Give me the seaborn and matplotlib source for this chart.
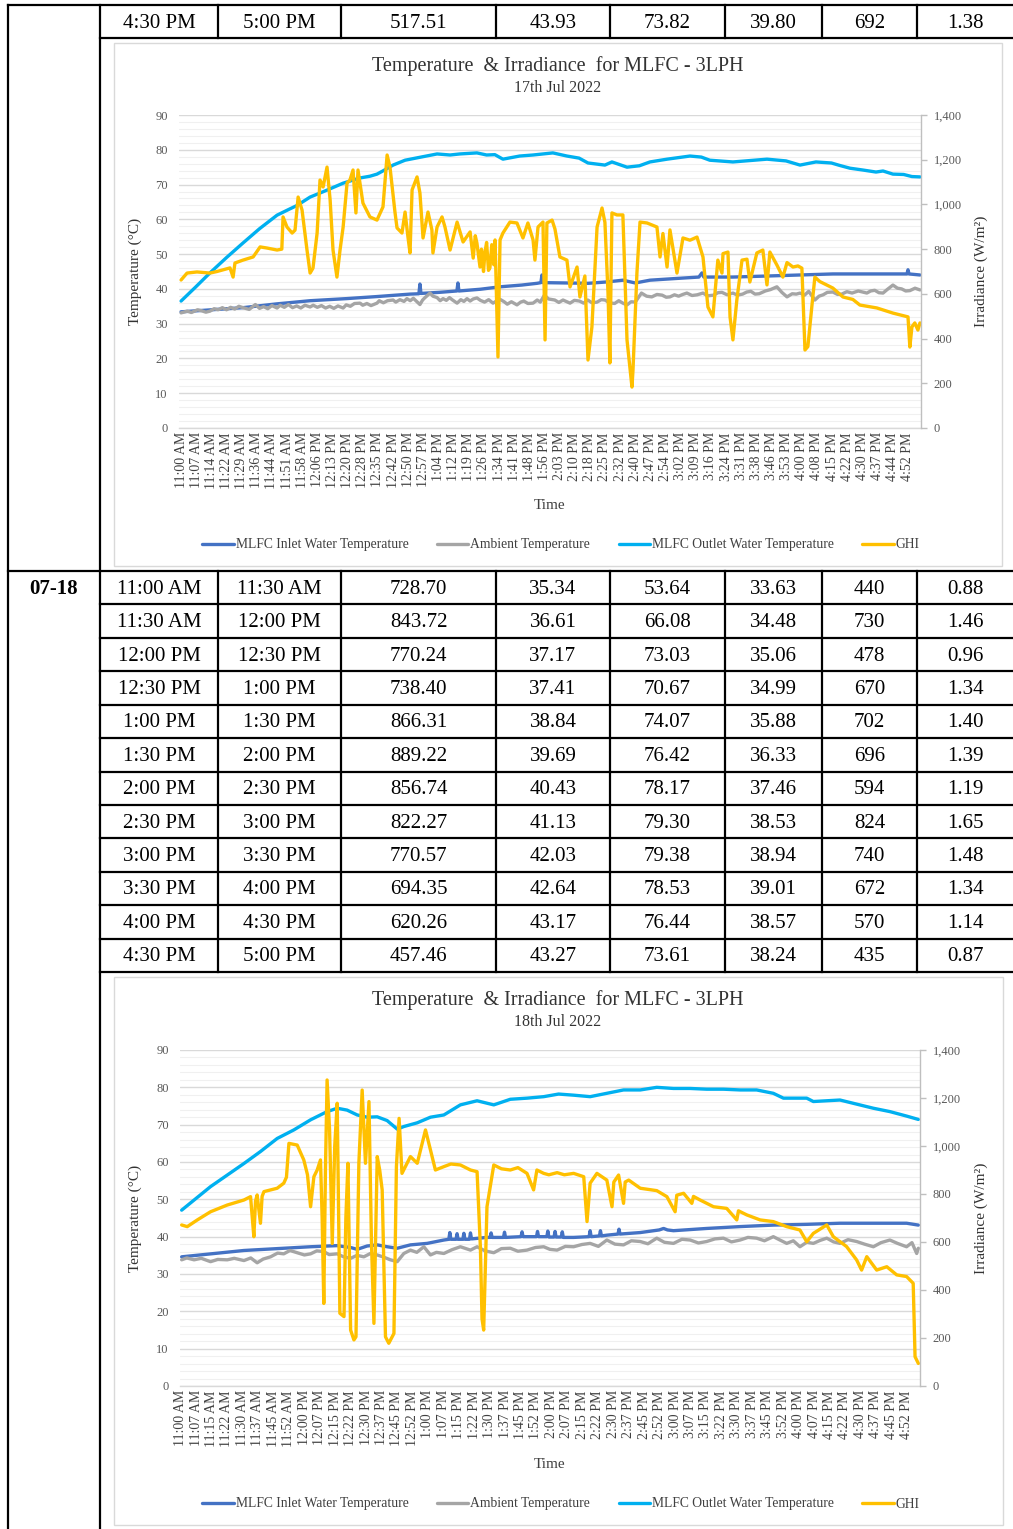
import numpy as np
import pandas as pd
import matplotlib
matplotlib.use("Agg")
import matplotlib.pyplot as plt
from matplotlib.lines import Line2D
from matplotlib.patches import Rectangle
from matplotlib.ticker import MultipleLocator, FuncFormatter
import seaborn as sns

# ---------------------------------------------------------------- table data
jul17_last_row = ["4:30 PM", "5:00 PM", "517.51", "43.93", "73.82", "39.80", "692", "1.38"]

jul18_date = "07-18"
jul18_start = ["11:00 AM", "11:30 AM", "12:00 PM", "12:30 PM", "1:00 PM", "1:30 PM",
               "2:00 PM", "2:30 PM", "3:00 PM", "3:30 PM", "4:00 PM", "4:30 PM"]
jul18_end = ["11:30 AM", "12:00 PM", "12:30 PM", "1:00 PM", "1:30 PM", "2:00 PM",
             "2:30 PM", "3:00 PM", "3:30 PM", "4:00 PM", "4:30 PM", "5:00 PM"]
jul18_ghi_avg = [728.70, 843.72, 770.24, 738.40, 866.31, 889.22, 856.74, 822.27, 770.57, 694.35, 620.26, 457.46]
jul18_inlet_avg = [35.34, 36.61, 37.17, 37.41, 38.84, 39.69, 40.43, 41.13, 42.03, 42.64, 43.17, 43.27]
jul18_outlet_avg = [53.64, 66.08, 73.03, 70.67, 74.07, 76.42, 78.17, 79.30, 79.38, 78.53, 76.44, 73.61]
jul18_ambient_avg = [33.63, 34.48, 35.06, 34.99, 35.88, 36.33, 37.46, 38.53, 38.94, 39.01, 38.57, 38.24]
jul18_col7 = [440, 730, 478, 670, 702, 696, 594, 824, 740, 672, 570, 435]
jul18_col8 = [0.88, 1.46, 0.96, 1.34, 1.40, 1.39, 1.19, 1.65, 1.48, 1.34, 1.14, 0.87]

# ---------------------------------------------------------------- chart labels
jul17_ticks = ["11:00 AM", "11:07 AM", "11:14 AM", "11:22 AM", "11:29 AM", "11:36 AM", "11:44 AM",
               "11:51 AM", "11:58 AM", "12:06 PM", "12:13 PM", "12:20 PM", "12:28 PM", "12:35 PM",
               "12:42 PM", "12:50 PM", "12:57 PM", "1:04 PM", "1:12 PM", "1:19 PM", "1:26 PM",
               "1:34 PM", "1:41 PM", "1:48 PM", "1:56 PM", "2:03 PM", "2:10 PM", "2:18 PM",
               "2:25 PM", "2:32 PM", "2:40 PM", "2:47 PM", "2:54 PM", "3:02 PM", "3:09 PM",
               "3:16 PM", "3:24 PM", "3:31 PM", "3:38 PM", "3:46 PM", "3:53 PM", "4:00 PM",
               "4:08 PM", "4:15 PM", "4:22 PM", "4:30 PM", "4:37 PM", "4:44 PM", "4:52 PM"]
jul18_ticks = ["11:00 AM", "11:07 AM", "11:15 AM", "11:22 AM", "11:30 AM", "11:37 AM", "11:45 AM",
               "11:52 AM", "12:00 PM", "12:07 PM", "12:15 PM", "12:22 PM", "12:30 PM", "12:37 PM",
               "12:45 PM", "12:52 PM", "1:00 PM", "1:07 PM", "1:15 PM", "1:22 PM", "1:30 PM",
               "1:37 PM", "1:45 PM", "1:52 PM", "2:00 PM", "2:07 PM", "2:15 PM", "2:22 PM",
               "2:30 PM", "2:37 PM", "2:45 PM", "2:52 PM", "3:00 PM", "3:07 PM", "3:15 PM",
               "3:22 PM", "3:30 PM", "3:37 PM", "3:45 PM", "3:52 PM", "4:00 PM", "4:07 PM",
               "4:15 PM", "4:22 PM", "4:30 PM", "4:37 PM", "4:45 PM", "4:52 PM"]

# ---------------------------------------------------------------- 17 Jul series
# (minutes after 11:00 AM, value)
jul17_inlet = [(0, 33.4), (15, 34.0), (30, 34.6), (46.5, 35.7), (62.5, 36.6), (80, 37.2), (95, 37.8),
               (110.9, 38.5), (115.2, 38.6), (115.7, 41.4), (116.2, 38.7), (125, 39.0), (133.6, 39.4),
               (134.1, 41.7), (134.6, 39.4), (145, 39.9), (154.5, 40.6), (165, 41.1), (172.4, 41.6),
               (174.3, 41.8), (174.8, 44.0), (175.3, 41.8), (186.9, 41.7), (197.1, 41.6), (206.3, 42.0),
               (214.0, 42.5), (220.0, 41.7), (227.1, 42.5), (240, 43.0), (250.8, 43.4), (252.3, 44.6),
               (253.2, 43.4), (267.3, 43.4), (283.8, 43.7), (299.8, 44.0), (315.7, 44.3), (332.2, 44.3),
               (351.6, 44.3), (352.1, 45.5), (352.6, 44.3), (357.9, 44.0)]
jul17_ambient = [(0, 33.1), (3, 33.6), (5, 33.2), (8, 34.0), (10, 33.7), (12, 33.3), (14, 33.6), (16, 34.3),
                 (18, 34.0), (20, 34.6), (22, 34.0), (24, 34.7), (26, 34.2), (28, 35.0), (30, 34.6),
                 (33, 34.1), (36, 35.5), (38, 34.4), (40, 34.9), (42, 34.3), (44, 35.2), (46.5, 34.5),
                 (48, 35.3), (50, 34.7), (52, 35.5), (54, 34.6), (56, 35.1), (58, 34.5), (60, 35.3),
                 (62.5, 34.8), (64, 35.3), (66, 34.7), (68, 35.2), (70, 34.5), (72, 35.0), (74, 34.4),
                 (76, 35.1), (78.5, 34.5), (80, 35.4), (82, 35.0), (84, 35.8), (86.7, 35.9), (88, 35.3),
                 (90, 35.8), (92, 35.2), (94.9, 35.9), (96, 36.6), (98, 36.0), (100, 36.6), (102.7, 36.8),
                 (104, 36.2), (106, 36.9), (108, 36.4), (109.4, 37.2), (111, 36.6), (112.5, 37.3),
                 (115.7, 35.5), (117, 36.8), (118, 37.4), (120.6, 38.8), (122, 37.9), (124, 37.5),
                 (125.5, 36.6), (126.9, 37.2), (128.5, 36.7), (130, 37.5), (131.5, 36.8), (133.7, 35.9),
                 (135.5, 36.9), (137, 36.4), (138.5, 37.2), (140, 36.5), (141.5, 37.1), (143.3, 37.4),
                 (145, 36.7), (147, 36.2), (149, 36.9), (151.1, 35.9), (153, 36.6), (154.5, 37.0),
                 (156.5, 36.3), (158, 35.6), (160, 36.3), (162.7, 35.4), (164.5, 36.2), (166, 36.5),
                 (168, 35.8), (170.5, 35.9), (172.5, 36.8), (174, 36.2), (176, 38.2), (178, 37.1),
                 (181, 36.8), (183, 36.1), (185, 36.8), (188.4, 35.9), (190.5, 36.7), (193, 36.5),
                 (195, 35.9), (197, 36.8), (199, 36.0), (201.5, 36.2), (203.5, 36.9), (205.3, 36.8),
                 (207.5, 36.0), (210, 35.8), (212, 36.6), (214, 35.9), (216, 35.4), (218, 36.3),
                 (220, 36.2), (223, 38.8), (225.5, 37.9), (228, 37.7), (230.5, 38.4), (233, 38.2),
                 (235, 37.6), (236.8, 37.7), (239, 38.3), (241, 37.9), (243, 38.4), (245, 38.8),
                 (247.5, 38.1), (250, 38.3), (252.8, 38.8), (255, 38.0), (258, 38.2), (260, 38.9),
                 (262, 39.0), (264.5, 38.3), (267.3, 38.8), (269.5, 38.2), (272, 38.5), (274, 39.1),
                 (276, 39.3), (278, 38.5), (280, 38.6), (283, 39.4), (285.5, 39.8), (288.6, 40.6),
                 (291, 39.0), (293.5, 37.7), (296, 38.6), (298, 38.5), (299.8, 38.8), (302, 38.2),
                 (304, 39.3), (307, 36.8), (309, 37.9), (311, 38.3), (313, 39.0), (315.7, 39.1),
                 (318, 38.4), (320, 38.5), (322.5, 39.2), (325, 38.8), (328, 39.4), (332.2, 38.8),
                 (334, 39.4), (336, 39.6), (338, 38.9), (340, 38.8), (342, 39.8), (344.8, 41.1),
                 (347, 40.2), (349, 40.0), (351, 39.4), (353, 39.5), (355.5, 40.2), (357.9, 39.7)]
jul17_outlet = [(0, 36.5), (7, 40.5), (14.0, 44.6), (22, 49.0), (30.0, 53.2), (38, 57.3), (46.5, 61.2),
                (52, 62.8), (56.2, 64.0), (62.5, 66.4), (70.7, 68.4), (78.5, 70.4), (86.7, 71.9), (91.5, 72.4),
                (94.9, 73.0), (98, 74.0), (102.7, 75.6), (108.5, 77.0), (116.2, 77.9), (124.0, 78.8),
                (130.3, 78.5), (135, 78.8), (143.3, 79.1), (148, 78.5), (152, 78.6), (155.9, 77.3), (164, 78.2),
                (170.5, 78.5), (180.1, 79.1), (186.9, 78.2), (192.8, 77.6), (197.1, 76.2), (205.3, 75.6),
                (208.7, 76.5), (216.0, 75.0), (222, 75.4), (227.1, 76.5), (235.4, 77.3), (246.5, 78.2),
                (252, 77.9), (256.1, 77.0), (267.3, 76.5), (283.8, 77.3), (293, 76.8), (299.8, 75.6),
                (307.5, 76.5), (315, 76.2), (319, 75.5), (324.0, 74.7), (330, 74.2), (336.6, 73.6),
                (340, 73.9), (344.8, 73.0), (350, 72.9), (354, 72.3), (357.9, 72.2)]
jul17_ghi = [(0, 662), (2.9, 693), (7.7, 698), (14.0, 693), (17.4, 700), (23.7, 716), (25.2, 675), (26.1, 738),
             (30.0, 751), (34.9, 765), (38.3, 810), (41.6, 805), (46.5, 796), (48.8, 800), (49.4, 944),
             (51.3, 899), (53.8, 872), (55.2, 885), (56.7, 1033), (58.6, 975), (61.0, 796), (62.5, 693),
             (63.9, 715), (65.9, 872), (67.3, 1109), (68.8, 1078), (70.7, 1167), (72.2, 1020), (73.6, 796),
             (75.5, 675), (77.0, 796), (78.5, 899), (80.4, 1096), (81.8, 1109), (83.3, 1154), (84.7, 962),
             (85.7, 1154), (88.1, 1006), (91.5, 944), (94.9, 930), (97.8, 989), (99.8, 1221), (101.2, 1167),
             (103.6, 966), (104.6, 895), (107.0, 872), (108.5, 966), (109.9, 854), (110.9, 783), (111.9, 1065),
             (114.3, 1123), (115.7, 1051), (117.2, 850), (119.6, 966), (121.5, 886), (122.0, 783), (124.0, 899),
             (126.4, 944), (127.8, 900), (130.3, 796), (133.7, 921), (136.6, 832), (140.0, 877), (141.5, 760),
             (142.5, 860), (143.3, 827), (144.8, 720), (145.5, 800), (146.5, 700), (147.2, 787), (148.0, 830),
             (148.9, 705), (149.6, 716), (150.5, 820), (151.5, 730), (152.1, 841), (153.5, 318), (154.5, 841),
             (155.9, 872), (159.3, 921), (162.7, 917), (165.6, 850), (168.0, 917), (170.5, 841), (171.4, 751),
             (172.9, 899), (175.3, 921), (176.3, 394), (177.2, 917), (179.7, 930), (181.1, 890), (183.5, 765),
             (186.9, 751), (188.4, 631), (191.8, 720), (193.2, 586), (195.6, 680), (197.1, 304), (199.0, 452),
             (201.5, 899), (203.9, 984), (205.3, 920), (206.8, 604), (207.7, 291), (208.7, 962), (211.1, 953),
             (214.0, 953), (216.0, 394), (218.4, 183), (218.9, 259), (220.8, 693), (222.3, 921), (225.7, 917),
             (230.5, 899), (232.0, 765), (233.4, 870), (235.4, 720), (236.8, 886), (240.2, 693), (243.1, 850),
             (246.5, 840), (249.9, 854), (252.8, 765), (255.2, 541), (257.6, 497), (260.0, 751), (262.0, 693),
             (262.5, 780), (264.9, 787), (265.9, 497), (267.3, 394), (269.2, 573), (271.7, 751), (274.1, 755),
             (275.5, 653), (278.9, 783), (281.8, 796), (283.8, 640), (285.2, 787), (288.6, 729), (291.5, 675),
             (293.5, 740), (296.4, 720), (298.8, 725), (300.7, 715), (302.2, 349), (303.6, 364), (305.6, 550),
             (307.0, 675), (309.4, 655), (315.7, 626), (320.6, 586), (325.4, 575), (328.8, 550), (337.0, 537),
             (344.8, 514), (352.1, 497), (353.0, 362), (354.0, 452), (355.4, 470), (356.9, 438), (357.9, 470)]

# ---------------------------------------------------------------- 18 Jul series
jul18_inlet = [(0.5, 34.6), (30.7, 36.3), (63.0, 37.3), (75.9, 37.6), (82.4, 37.1), (85.6, 36.6), (90.4, 37.5),
               (95.3, 37.8), (100.1, 37.3), (105.0, 36.9), (111.4, 37.8), (119.5, 38.2), (127.6, 39.1),
               (130.0, 39.3), (130.5, 41.1), (131.0, 39.3), (133.5, 39.3), (134.0, 40.8), (134.5, 39.3),
               (136.8, 39.3), (137.3, 40.9), (137.8, 39.3), (140.0, 39.3), (140.5, 41.0), (141.0, 39.4),
               (148.4, 39.8), (150.0, 39.8), (150.5, 41.0), (151.0, 39.8), (156.5, 39.8), (157.0, 41.2),
               (157.5, 39.8), (165.0, 40.0), (165.5, 41.3), (166.0, 40.0), (172.5, 40.0), (173.0, 41.4),
               (173.5, 40.0), (177.5, 40.0), (178.0, 41.5), (178.5, 39.9), (181.0, 39.9), (181.5, 41.4),
               (182.0, 39.9), (184.5, 39.9), (185.0, 41.3), (185.5, 39.8), (190.5, 39.8), (198.0, 40.0),
               (198.5, 41.6), (199.0, 40.0), (203.0, 40.2), (203.5, 41.6), (204.0, 40.2), (206.6, 40.4),
               (212.0, 40.7), (212.5, 42.0), (213.0, 40.7), (222.8, 41.1), (232.0, 41.8), (234.1, 42.2),
               (236.0, 41.8), (238.9, 41.6), (255.0, 42.2), (271.2, 42.7), (287.3, 43.1), (303.5, 43.3),
               (319.6, 43.6), (335.8, 43.6), (351.9, 43.6), (357.6, 43.1)]
jul18_ambient = [(0.5, 33.8), (3, 34.3), (6.5, 33.8), (10, 34.2), (14.5, 33.3), (18, 33.9), (22.6, 33.8),
                 (26, 34.2), (30.7, 33.6), (34, 34.3), (37.1, 33.0), (40, 34.0), (43.6, 34.6), (47, 35.6),
                 (50.0, 35.4), (53, 36.3), (56.5, 35.7), (60, 35.1), (63.0, 35.4), (66, 36.2), (69.4, 36.0),
                 (72, 35.2), (75.9, 35.4), (79, 34.6), (82.4, 34.2), (85.5, 35.0), (88.8, 34.6), (92, 35.5),
                 (95.3, 35.1), (98.5, 34.5), (101.7, 33.8), (105.0, 33.3), (108.2, 35.5), (111.4, 36.4),
                 (114.5, 35.8), (117.9, 37.3), (121.1, 35.1), (124, 35.8), (127.6, 35.5), (131.5, 36.5),
                 (135.6, 37.3), (140.5, 36.4), (143.7, 37.3), (147.5, 36.2), (151.8, 35.7), (155.5, 36.8),
                 (159.8, 36.9), (163.5, 36.1), (167.9, 36.4), (172, 37.1), (176.0, 37.3), (179, 36.6),
                 (182.5, 36.4), (186.5, 37.4), (190.5, 37.3), (194.5, 37.9), (198.5, 38.2), (202.5, 37.4),
                 (206.6, 39.1), (210.5, 38.0), (214.7, 37.8), (218.5, 38.9), (222.8, 38.7), (226.5, 38.1),
                 (230.8, 39.6), (234.5, 38.5), (238.9, 38.2), (243, 39.3), (247.0, 39.1), (251, 38.3),
                 (255.0, 38.7), (259, 39.4), (263.1, 39.6), (267, 38.6), (271.2, 39.1), (275, 39.8),
                 (279.2, 39.6), (283, 38.9), (287.3, 40.0), (290.5, 39.1), (293.8, 38.2), (297, 38.9),
                 (300.2, 37.3), (303.5, 38.5), (306.7, 38.2), (310, 39.0), (313.2, 39.6), (316.5, 38.6),
                 (319.6, 38.2), (323.5, 39.2), (327.7, 38.7), (331.5, 38.0), (335.8, 37.3), (339.5, 38.4),
                 (343.8, 39.1), (347.5, 38.2), (351.9, 37.3), (354.5, 38.4), (356.8, 35.5), (357.6, 36.9)]
jul18_outlet = [(0.5, 47.1), (14.5, 53.4), (30.7, 59.6), (38.7, 62.8), (46.8, 66.3), (54.9, 68.6),
                (63.0, 71.3), (71.0, 73.5), (75.9, 74.4), (80.7, 73.9), (85.6, 72.6), (90.4, 72.0),
                (95.3, 72.1), (100.1, 71.1), (105.0, 68.8), (108.2, 69.5), (114.7, 70.5), (121.1, 72.0),
                (127.6, 72.6), (135.6, 75.3), (143.7, 76.4), (151.8, 75.3), (159.8, 76.8), (167.9, 77.1),
                (176.0, 77.5), (183.2, 78.2), (190.5, 77.9), (198.5, 77.5), (206.6, 78.4), (214.7, 79.3),
                (222.8, 79.3), (230.8, 80.0), (238.9, 79.7), (247.0, 79.7), (255.0, 79.5), (263.1, 79.5),
                (271.2, 79.3), (279.2, 79.3), (287.3, 78.4), (292.2, 77.1), (303.5, 77.1), (306.7, 76.2),
                (319.6, 76.6), (327.7, 75.5), (335.8, 74.4), (343.8, 73.5), (351.9, 72.3), (357.6, 71.4)]
jul18_ghi = [(0.5, 671), (3.2, 664), (8.1, 692), (14.5, 726), (22.6, 754), (30.7, 775), (33.9, 789), (34.7, 705),
             (35.5, 622), (36.3, 770), (37.1, 796), (38.7, 678), (39.5, 790), (40.4, 810), (46.8, 824),
             (50.0, 845), (51.3, 870), (52.5, 1011), (56.5, 1004), (59.7, 942), (61.5, 880), (63.0, 747),
             (64.6, 872), (66.2, 900), (67.8, 942), (68.6, 700), (69.4, 344), (70.2, 900), (71.0, 1275),
             (72.2, 1067), (73.5, 594), (74.7, 1000), (75.9, 1178), (77.2, 303), (79.2, 289), (80.1, 700),
             (81.1, 928), (82.4, 233), (84.0, 192), (85.0, 205), (86.4, 928), (88.0, 1233), (89.6, 928),
             (91.3, 1185), (92.5, 600), (93.7, 261), (95.3, 956), (96.5, 900), (97.7, 817), (99.3, 205),
             (100.9, 178), (103.4, 219), (104.6, 914), (105.9, 1115), (107.3, 886), (111.4, 956), (114.7, 928),
             (118.7, 1067), (121.9, 956), (123.5, 900), (127.6, 914), (131.0, 925), (135.6, 921), (140.5, 900),
             (143.7, 893), (145.3, 580), (146.1, 280), (146.9, 233), (148.5, 747), (151.8, 921), (155.5, 905),
             (159.8, 900), (163.5, 910), (167.9, 886), (171.1, 817), (172.7, 900), (176.0, 886), (178.5, 880),
             (182.5, 889), (186.0, 880), (190.5, 886), (195.4, 872), (197.0, 685), (198.5, 845), (201.8, 886),
             (206.6, 858), (209.1, 747), (210.0, 850), (212.3, 879), (214.7, 761), (215.5, 850), (217.2, 858),
             (222.8, 824), (230.8, 814), (235.7, 789), (239.7, 726), (240.5, 795), (243.8, 803), (247.8, 761),
             (248.6, 790), (251.8, 775), (258.3, 747), (264.7, 740), (269.6, 692), (270.4, 730), (274.4, 713),
             (280.9, 692), (287.3, 685), (293.8, 664), (300.2, 650), (303.5, 601), (306.7, 636), (313.2, 671),
             (316.4, 622), (322.8, 581), (327.7, 525), (330.1, 483), (332.6, 539), (337.4, 483), (342.3, 497),
             (347.1, 463), (351.9, 456), (355.1, 428), (356.0, 122), (357.6, 94)]

series_names = ["MLFC Inlet Water Temperature", "Ambient Temperature",
                "MLFC Outlet Water Temperature", "GHI"]
series_colors = ["#4472C4", "#A5A5A5", "#00B0F0", "#FFC000"]

# ---------------------------------------------------------------- styling
sns.set_style("white")
plt.rcParams["font.family"] = ["Liberation Serif", "DejaVu Serif"]

W, H = 1013, 1529
fig = plt.figure(figsize=(W / 100, H / 100), dpi=100)


def fx(px):
    return px / W


def fy(py):
    return 1 - py / H


def hline(y, x0, x1):
    fig.add_artist(Line2D([fx(x0), fx(x1)], [fy(y), fy(y)], color="black", lw=1.6,
                          transform=fig.transFigure, solid_capstyle="projecting"))


def vline(x, y0, y1):
    fig.add_artist(Line2D([fx(x), fx(x)], [fy(y0), fy(y1)], color="black", lw=1.6,
                          transform=fig.transFigure, solid_capstyle="projecting"))


def cell_text(x, y, s, bold=False):
    fig.text(fx(x), fy(y), s, ha="center", va="center", fontsize=15,
             fontweight="bold" if bold else "normal", color="black")


# ---------------------------------------------------------------- table grid
col_edges = [8, 100, 218, 341, 496, 610, 725, 822, 917, 1013]
col_centers = [(a + b) / 2 for a, b in zip(col_edges[:-1], col_edges[1:])]

hline(5, 8, 1013)
hline(38, 100, 1013)
hline(571, 8, 1013)
row_edges = list(np.linspace(571, 972, len(jul18_start) + 1))
for y in row_edges[1:]:
    hline(y, 100, 1013)
vline(8, 5, 1529)
vline(100, 5, 1529)
for x in col_edges[2:-1]:
    vline(x, 5, 38)
    vline(x, 571, 972)

for cx, s in zip(col_centers[1:], jul17_last_row):
    cell_text(cx, 23, s)

cell_text(col_centers[0], 589, jul18_date, bold=True)
for i in range(len(jul18_start)):
    yc = (row_edges[i] + row_edges[i + 1]) / 2 + 1.5
    row = [jul18_start[i], jul18_end[i], f"{jul18_ghi_avg[i]:.2f}", f"{jul18_inlet_avg[i]:.2f}",
           f"{jul18_outlet_avg[i]:.2f}", f"{jul18_ambient_avg[i]:.2f}", f"{jul18_col7[i]}",
           f"{jul18_col8[i]:.2f}"]
    for cx, s in zip(col_centers[1:], row):
        cell_text(cx, yc, s)


# ---------------------------------------------------------------- charts
def tick_minutes(labels):
    def to_min(lbl):
        hm, ampm = lbl.split()
        h, m = map(int, hm.split(":"))
        if ampm == "PM" and h != 12:
            h += 12
        return (h - 11) * 60 + m
    return np.linspace(to_min(labels[0]), to_min(labels[-1]), len(labels))


def draw_chart(frame, plot, title, subtitle, title_y, time_y, legend_y, ticks, inlet, ambient,
               outlet, ghi, xlim):
    fl, ft, fr, fb = frame
    fig.add_artist(Rectangle((fx(fl), fy(fb)), (fr - fl) / W, (fb - ft) / H, transform=fig.transFigure,
                             fill=False, ec="#d9d9d9", lw=1.0))
    pl, pt, pr, pb = plot
    ax = fig.add_axes([fx(pl), fy(pb), (pr - pl) / W, (pb - pt) / H])
    ax.set_facecolor("none")

    for data, name, color in zip([inlet, ambient, outlet], series_names[:3], series_colors[:3]):
        df = pd.DataFrame(data, columns=["minute", "value"])
        sns.lineplot(data=df, x="minute", y="value", ax=ax, color=color, linewidth=2.4,
                     errorbar=None, legend=False)
    ax.set_ylim(0, 90)
    ax.set_xlim(*xlim)
    ax.yaxis.set_major_locator(MultipleLocator(10))
    ax.yaxis.set_minor_locator(MultipleLocator(2))
    ax.grid(which="major", axis="y", color="#d9d9d9", lw=1.0)
    ax.grid(which="minor", axis="y", color="#f0f0f0", lw=0.8)
    ax.grid(which="major", axis="x", visible=False)
    ax.set_axisbelow(True)
    for side in ["left", "right", "top"]:
        ax.spines[side].set_visible(False)
    ax.spines["bottom"].set_color("#d9d9d9")
    ax.spines["bottom"].set_linewidth(1.0)
    ax.tick_params(axis="y", which="both", length=0, pad=8, labelsize=9, labelcolor="#595959")
    ax.set_xticks(tick_minutes(ticks))
    ax.set_xticklabels(ticks, rotation=90)
    ax.tick_params(axis="x", length=0, pad=3, labelsize=10, labelcolor="#404040")
    ax.set_xlabel("")
    ax.set_ylabel("Temperature (°C)", fontsize=11, color="#333333")
    ax.yaxis.set_label_coords((142 - pl) / (pr - pl), 0.5)

    ax2 = ax.twinx()
    df = pd.DataFrame(ghi, columns=["minute", "value"])
    sns.lineplot(data=df, x="minute", y="value", ax=ax2, color=series_colors[3], linewidth=2.4,
                 errorbar=None, legend=False)
    ax2.set_ylim(0, 1400)
    ax2.set_xlim(*xlim)
    ax2.yaxis.set_major_locator(MultipleLocator(200))
    ax2.yaxis.set_major_formatter(FuncFormatter(lambda v, p: f"{int(v):,}"))
    ax2.grid(False)
    for side in ["left", "top", "bottom"]:
        ax2.spines[side].set_visible(False)
    ax2.spines["right"].set_color("#bfbfbf")
    ax2.spines["right"].set_linewidth(1.0)
    ax2.tick_params(axis="y", length=4, width=1.0, color="#bfbfbf", direction="out", pad=5,
                    labelsize=9, labelcolor="#595959")
    ax2.set_ylabel("Irradiance (W/m²)", fontsize=11, color="#333333")
    ax2.yaxis.set_label_coords((975 - pl) / (pr - pl), 0.5)

    fig.text(fx(558), fy(title_y), title, ha="center", va="center", fontsize=14.5, color="#333333")
    fig.text(fx(558), fy(title_y + 22), subtitle, ha="center", va="center", fontsize=11.5, color="#333333")
    fig.text(fx(550), fy(time_y), "Time", ha="center", va="center", fontsize=11, color="#404040")

    handles = ax.lines[:3] + ax2.lines[:1]
    fig.legend(handles, series_names, loc="center", bbox_to_anchor=(fx(561), fy(legend_y)), ncol=4,
               frameon=False, fontsize=9.8, handlelength=2.3, handletextpad=0.15, columnspacing=2.1,
               labelcolor="#404040")


draw_chart((114, 43, 1002, 566), (179, 115, 921, 428),
           "Temperature  & Irradiance  for MLFC - 3LPH", "17th Jul 2022", 66, 506, 545,
           jul17_ticks, jul17_inlet, jul17_ambient, jul17_outlet, jul17_ghi, (-1.0, 358.4))
draw_chart((114, 977, 1003, 1525), (180, 1050, 920, 1386),
           "Temperature  & Irradiance  for MLFC - 3LPH", "18th Jul 2022", 1000, 1464, 1504,
           jul18_ticks, jul18_inlet, jul18_ambient, jul18_outlet, jul18_ghi, (-0.3, 358.4))

fig.savefig("out.png", dpi=100)
